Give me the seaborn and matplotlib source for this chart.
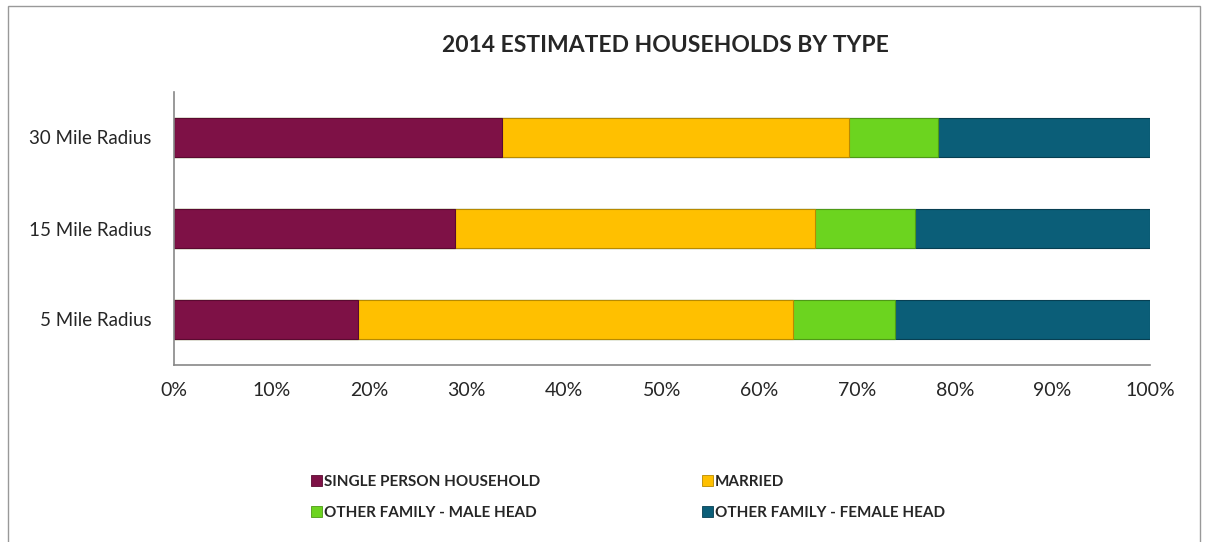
import numpy as np
import pandas as pd
import matplotlib
matplotlib.use('Agg')
import matplotlib.pyplot as plt
from matplotlib.patches import Rectangle, Patch
import seaborn as sns

# ---------------------- data ----------------------
radius = ['30 Mile Radius', '15 Mile Radius', '5 Mile Radius']
single_person = [33.6, 28.8, 18.9]
married = [35.6, 36.9, 44.5]
other_male = [9.1, 10.2, 10.5]
other_female = [21.7, 24.1, 26.1]

series_names = ['SINGLE PERSON HOUSEHOLD', 'MARRIED',
                'OTHER FAMILY - MALE HEAD', 'OTHER FAMILY - FEMALE HEAD']
colors = ['#7E1146', '#FFC000', '#6CD41F', '#0B5E78']
edges = ['#5A0A30', '#B88A00', '#4E9A16', '#073F52']

data = pd.DataFrame({'radius': radius,
                     series_names[0]: single_person,
                     series_names[1]: married,
                     series_names[2]: other_male,
                     series_names[3]: other_female})
# cumulative share, so each layer is drawn on top of the next one
cum = data[series_names].cumsum(axis=1)
cum['radius'] = data['radius']

sns.set_style('white')
plt.rcParams['font.family'] = ['Lato', 'DejaVu Sans']

fig = plt.figure(figsize=(12.09, 5.42), dpi=100)
ax = fig.add_axes([174 / 1209, 1 - 365 / 542, 976 / 1209, 273 / 542])

for name, col, ec in reversed(list(zip(series_names, colors, edges))):
    sns.barplot(data=cum, x=name, y='radius', order=radius, color=col,
                width=0.42, edgecolor=ec, linewidth=0.8, saturation=1, ax=ax)

ax.set_xlim(0, 100)
ax.set_ylim(2.5, -0.5)
ax.set_xticks(np.arange(0, 101, 10))
ax.set_xticklabels([f'{v}%' for v in range(0, 101, 10)], fontsize=14)
ax.set_yticks(range(len(radius)))
ax.set_yticklabels(radius, fontsize=13.5)
ax.set_yticks([-0.5, 0.5, 1.5, 2.5], minor=True)
ax.tick_params(axis='y', which='major', length=0, pad=16)
ax.tick_params(axis='y', which='minor', length=6, color='#888888', width=1.2)
ax.tick_params(axis='x', which='major', length=6, color='#888888', width=1.2,
               direction='out', pad=6)
ax.set_xlabel('')
ax.set_ylabel('')
for side in ['top', 'right']:
    ax.spines[side].set_visible(False)
for side in ['left', 'bottom']:
    ax.spines[side].set_color('#888888')
    ax.spines[side].set_linewidth(1.2)

fig.text(665 / 1209, 1 - 45 / 542, '2014 ESTIMATED HOUSEHOLDS BY TYPE',
         ha='center', va='center', fontsize=16.5, fontweight='bold')

handles = [Patch(facecolor=c, edgecolor=e, linewidth=0.6) for c, e in zip(colors, edges)]
order = [0, 2, 1, 3]
leg = fig.legend([handles[i] for i in order], [series_names[i] for i in order],
                 loc='upper left', bbox_to_anchor=(311 / 1209, 1 - 475 / 542),
                 ncol=2, frameon=False, prop={'weight': 'bold', 'size': 11},
                 handlelength=0.7, handleheight=0.7, handletextpad=0.15,
                 columnspacing=10.6, labelspacing=1.1, borderpad=0,
                 borderaxespad=0)

fig.patches.append(Rectangle((8 / 1209, -0.02), 1192 / 1209, 1.02 - 6 / 542,
                             transform=fig.transFigure, fill=False,
                             edgecolor='#999999', linewidth=1))

fig.savefig('out.png', dpi=100)
